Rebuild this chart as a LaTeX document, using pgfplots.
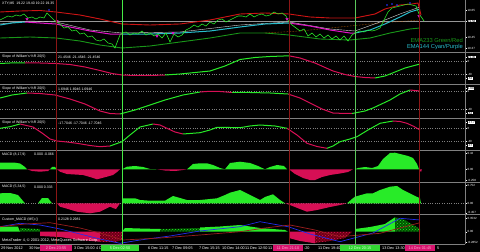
\documentclass[border=0pt]{standalone}
\usepackage{fontspec}
\setmainfont{Liberation Sans}
\usepackage{pgfplots}
\pgfplotsset{compat=1.18}
\usetikzlibrary{patterns}
\definecolor{upc}{RGB}{40,235,40}
\definecolor{dnc}{RGB}{215,15,85}
\definecolor{sepc}{RGB}{128,128,128}
\definecolor{vred}{RGB}{140,22,22}
\definecolor{vgreen}{RGB}{70,235,70}
\definecolor{emag}{RGB}{25,150,25}
\definecolor{emar}{RGB}{205,20,20}
\definecolor{cyanl}{RGB}{40,190,205}
\definecolor{purp}{RGB}{225,20,200}
\definecolor{mblue}{RGB}{35,45,235}
\definecolor{maroonl}{RGB}{155,30,30}
\definecolor{dkg}{RGB}{0,85,0}
\definecolor{dkr}{RGB}{110,0,20}
\definecolor{tmag}{RGB}{215,20,110}
\definecolor{tgrn}{RGB}{50,215,50}
\newcommand\lblfont{\fontsize{3}{3.4}\selectfont}
\newcommand\hdfont{\fontsize{3.5}{4}\selectfont}
\newcommand\tfont{\fontsize{3.8}{4.2}\selectfont}
\setlength{\fboxsep}{0.4pt}
\newcommand\bx[1]{\colorbox{white}{\textcolor{black}{#1}}}
\pgfplotsset{
 panel/.style={scale only axis, width=465pt, xmin=0, xmax=465, y dir=reverse, anchor=north west,
  axis x line=none, axis y line*=right, axis line style={draw=sepc, line width=0.8pt},
  ytick pos=right, yticklabel pos=right, tick align=outside, major tick length=1.5pt,
  tick style={white, line width=0.3pt},
  yticklabel style={white, font=\lblfont, inner sep=0.5pt, xshift=0.3pt},
  clip=true},
 up/.style={draw=upc, line width=1pt},
 dn/.style={draw=dnc, line width=1pt},
 gridl/.style={draw=sepc, dotted, line width=0.35pt},
 upf/.style={fill=upc, draw=none},
 dnf/.style={fill=dnc, draw=none},
}
\begin{document}
\begin{tikzpicture}
\fill[black] (0pt,0pt) rectangle (480pt,252pt);

% ---------------- main chart ----------------
\begin{axis}[panel, at={(0pt,252pt)}, height=52pt, ymin=0, ymax=52,
  ytick={10,21,37,48}, yticklabels={19.65,\bx{19.58},19.45,19.37}]
\addplot[draw={rgb,255:red,150;green,150;blue,150}, line width=0.4pt] coordinates {(0,21)(465,21)};
\addplot[draw={rgb,255:red,200;green,100;blue,0}, densely dotted, line width=0.5pt] coordinates {(265,33)(300,31)(340,27)(380,23)(420,20)};
% lower green band
\addplot[draw=emag, line width=0.9pt] coordinates {(0,38)(30,37)(56,38)(80,41)(100,45)(122,48)(150,46)(180,42)(210,38)(240,33)(265,33)(289,35)(320,39)(350,40)(370,38)(390,33)(410,29)(420,28)};
% upper red band
\addplot[draw=emar, line width=0.9pt] coordinates {(0,12)(20,11)(40,10.5)(56,12)(80,15)(100,19)(122,24)(150,25)(180,24)(210,20)(240,14)(265,13)(289,14)(310,17)(330,18)(355,18)(375,14)(385,9)(400,5)(412,4)(418,3)(421,15)};
% white smoothed line
\addplot[draw={rgb,255:red,215;green,215;blue,215}, line width=0.4pt] coordinates {(0,24)(30,21)(56,22)(90,30)(122,33)(180,32)(240,25)(289,22)(330,29)(355,31)(380,22)(400,14)(420,7)};
% EMA144 cyan / purple
\addplot[draw=cyanl, line width=1pt] coordinates {(0,25)(12,23)(25,22)};
\addplot[draw=purp, line width=1pt] coordinates {(25,22)(40,23)(56,24)(70,27)(90,31)(110,34)(122,34)};
\addplot[draw=cyanl, line width=1pt] coordinates {(122,34)(150,34)(180,33)(210,31)(240,27)(265,24)(289,23)};
\addplot[draw=purp, line width=1pt] coordinates {(289,23)(310,26)(330,30)(350,33)(355,33)};
\addplot[draw=cyanl, line width=1pt] coordinates {(355,33)(370,30)(385,24)(400,17)(410,12)(420,9)};
% price
\addplot[draw=upc, line width=0.6pt] coordinates {(0,20)(4,18)(8,16)(12,17)(16,15)(20,16)(24,14)(28,18)(32,17)(36,19)(40,17)(44,18)(47,13)(50,16)(53,19)(56,22)(60,24)(64,28)(68,27)(72,31)(76,30)(80,34)(84,33)(88,37)(92,36)(96,40)(100,41)(104,39)(108,43)(112,44)(115,48)(118,40)(120,35)(122,33)(126,32)(130,35)(134,33)(138,34)(142,31)(146,35)(150,33)(154,36)(158,34)(162,38)(166,33)(170,42)(174,34)(178,37)(182,35)(186,30)(190,28)(194,25)(198,27)(202,24)(206,26)(210,22)(214,24)(218,20)(222,19)(226,22)(230,20)(234,18)(238,16)(242,16)(246,17)(250,14)(254,17)(258,15)(262,14)(266,16)(270,15)(274,12)(278,14)(282,13)(286,16)(289,22)(292,25)(296,28)(300,31)(304,29)(308,36)(312,33)(316,37)(320,34)(324,38)(328,35)(332,39)(336,36)(340,40)(344,36)(348,41)(352,35)(355,33)(360,31)(364,32)(368,30)(372,31)(376,30)(380,28)(384,20)(388,12)(392,8)(396,7)(400,6)(404,5)(408,4)(412,5)(416,6)(419,14)(422,18)(424,21)};
\addplot[only marks, mark=triangle*, mark size=1.4pt, mark options={rotate=180, fill=purp, draw=purp}] coordinates {(27,19)(57,21)(157,36)(173,33)(287,19)(419,16)};
\addplot[only marks, mark=*, mark size=0.6pt, mblue] coordinates {(49,10)(387,5)(392,4)(397,5)(410,3)};
\node[anchor=west, white, font=\hdfont, inner sep=0pt] at (axis cs:2,4) {XTY,M5\ \ 19.22 19.40 19.22 19.35};
\node[anchor=east, emag, font=\fontsize{5.8}{6}\selectfont, inner sep=0pt] at (axis cs:463,40) {EMA233 Green/Red};
\node[anchor=east, cyanl, font=\fontsize{5.8}{6}\selectfont, inner sep=0pt] at (axis cs:463,47) {EMA144 Cyan/Purple};
\end{axis}

% ---------------- slope 1 ----------------
\begin{axis}[panel, at={(0pt,198.5pt)}, height=30.5pt, ymin=53.5, ymax=84,
  ytick={57,61,74,78.5}, yticklabels={\bx{21.45},0,-40,\bx{-52}}]
\addplot[gridl] coordinates {(0,61)(465,61)};
\addplot[gridl] coordinates {(0,74)(465,74)};
\addplot[up] coordinates {(0,63.5)(10,63)(25,62.8)};
\addplot[dn] coordinates {(25,62.8)(40,63)(56,63.5)(70,64.5)(85,67)(100,70.5)(112,73.5)(122,75)(135,75.5)(150,75.5)(165,75)};
\addplot[up] coordinates {(165,75)(180,74)(195,72.5)(210,71)(225,66)(240,59.5)(255,57.5)(270,56.5)(289,55.8)};
\addplot[dn] coordinates {(289,55.8)(300,58)(315,63)(333,71)(345,74.5)(355,76.5)(365,77.5)(375,78)};
\addplot[up] coordinates {(375,78)(385,76)(395,72)(405,68)(420,64)};
\node[anchor=west, white, font=\hdfont, inner sep=0pt] at (axis cs:2,57) {Slope of William's \%R 20(5)};
\node[anchor=west, white, font=\hdfont, inner sep=0pt] at (axis cs:58,57) {21.4546 -21.4546 -21.4546};
\end{axis}

% ---------------- slope 2 ----------------
\begin{axis}[panel, at={(0pt,166.5pt)}, height=32.5pt, ymin=85.5, ymax=118,
  ytick={88.5,91,109,113}, yticklabels={\bx{1.69},0,-40,\bx{-52}}]
\addplot[gridl] coordinates {(0,91)(465,91)};
\addplot[gridl] coordinates {(0,109)(465,109)};
\addplot[up] coordinates {(0,98)(12,95)(27,93)};
\addplot[dn] coordinates {(27,93)(40,93.5)(55,95)(70,99)(85,104)(100,111)(110,113.5)(120,114)};
\addplot[up] coordinates {(120,114)(135,110)(150,105)(165,100)(183,95)(200,92)};
\addplot[dn] coordinates {(200,92)(207,91.5)(220,91.5)(232,92.5)};
\addplot[up] coordinates {(232,92.5)(250,92.5)(270,93)(288,94)};
\addplot[dn] coordinates {(288,94)(300,98)(310,103)(322,109)(333,113)(345,113.5)(352,113.5)};
\addplot[up] coordinates {(352,113.5)(365,111)(373,108)(390,100)(400,94)(410,90)};
\addplot[dn] coordinates {(410,90)(420,91)};
\node[anchor=west, white, font=\hdfont, inner sep=0pt] at (axis cs:2,89) {Slope of William's \%R 20(5)};
\node[anchor=west, white, font=\hdfont, inner sep=0pt] at (axis cs:58,89) {1.6946 1.6946 1.6946};
\end{axis}

% ---------------- slope 3 ----------------
\begin{axis}[panel, at={(0pt,132.5pt)}, height=30.5pt, ymin=119.5, ymax=150,
  ytick={122.5,128,141.5,145.5}, yticklabels={\bx{-17.7},0,-40,\bx{-47}}]
\addplot[gridl] coordinates {(0,128)(465,128)};
\addplot[gridl] coordinates {(0,141.5)(465,141.5)};
\addplot[up] coordinates {(0,128.3)(10,126.7)(20,124)};
\addplot[dn] coordinates {(20,124)(33,127)(42,133)(50,139)(57,141)(67,142)(77,143.3)(90,145.5)(100,146.7)(110,146)};
\addplot[up] coordinates {(110,146)(122,141.7)(130,135)(140,127)(153,124)};
\addplot[dn] coordinates {(153,124)(160,125)(167,128.3)(175,132)(183,134)};
\addplot[up] coordinates {(183,134)(200,132.7)(210,130)(217,127.3)(230,127.5)(240,127.7)(250,126)(260,125)(275,126)(287,128.3)};
\addplot[dn] coordinates {(287,128.3)(297,135)(307,143.3)(317,146.5)(327,148.3)};
\addplot[up] coordinates {(327,148.3)(333,146)(340,141.7)(350,139)(357,136.7)(368,130)(380,123.3)(393,121)};
\addplot[dn] coordinates {(393,121)(400,121.5)(407,123.3)(414,126.5)(420,130)};
\node[anchor=west, white, font=\hdfont, inner sep=0pt] at (axis cs:2,123) {Slope of William's \%R 20(5)};
\node[anchor=west, white, font=\hdfont, inner sep=0pt] at (axis cs:58,123) {-17.7046 -17.7046 -17.7046};
\end{axis}

% ---------------- MACD 1 ----------------
\begin{axis}[panel, at={(0pt,100.5pt)}, height=30.5pt, ymin=151.5, ymax=182,
  ytick={153.5,169.3,180}, yticklabels={0.42,0.00,-0.258}]
\addplot[upf] coordinates {(0,169.3)(0,162.7)(15,162.7)(20,163.5)(25,167)(27,169.3)};
\addplot[dnf] coordinates {(27,169.3)(32,171)(40,171.7)(48,171)(50,169.3)};
\addplot[upf] coordinates {(50,169.3)(52,167)(55,167)(57,169.3)};
\addplot[dnf] coordinates {(57,169.3)(60,171.7)(67,174)(75,174.5)(83,175)(90,177)(97,179.3)(102,178)(107,176.7)(113,175)(117,172)(120,169.3)};
\addplot[upf] coordinates {(122,169.3)(127,166.7)(135,166)(143,167)(150,169)(157,169.3)};
\addplot[dnf] coordinates {(157,169.3)(165,170.5)(175,171)(183,170)(187,169.3)};
\addplot[upf] coordinates {(187,169.3)(193,164)(200,163.3)(207,163.3)(213,165)(220,168)(225,169.3)(230,163)(240,161.7)(250,163)(258,166)(265,169.3)(270,167)(277,165)(284,166)(287,169.3)};
\addplot[dnf] coordinates {(289,169.3)(295,174)(303,178)(310,180)(315,180)(322,177)(330,175)(340,173.5)(348,172)(353,169.3)};
\addplot[upf] coordinates {(355,169.3)(358,168)(365,167)(372,168)(378,166)(383,159)(390,153)(395,152.7)(400,154)(408,156)(413,158)(417,164)(419,169.3)};
\addplot[dnf] coordinates {(419,169.3)(421,172)(422,169.3)};
\node[anchor=west, white, font=\hdfont, inner sep=0pt] at (axis cs:2,154.5) {MACD (8,17,9)};
\node[anchor=west, white, font=\hdfont, inner sep=0pt] at (axis cs:34,154.5) {0.000 -0.066};
\end{axis}

% ---------------- MACD 2 ----------------
\begin{axis}[panel, at={(0pt,68.5pt)}, height=30.5pt, ymin=183.5, ymax=214,
  ytick={185.5,203.3,212.7}, yticklabels={0.752,0.00,-0.457}]
\addplot[gridl] coordinates {(0,203.3)(465,203.3)};
\addplot[upf] coordinates {(0,203.3)(0,193.3)(10,193)(18,195)(25,203.3)};
\addplot[upf] coordinates {(38,203.3)(42,198)(48,198)(52,203.3)};
\addplot[dnf] coordinates {(57,203.3)(60,206.7)(68,209)(77,211.7)(90,213.3)(100,211.7)(110,206.7)(113,208)(116,209)(120,203.3)};
\addplot[upf] coordinates {(122,203.3)(123,198.3)(135,198.3)(140,200)(150,200.7)(165,200.7)(173,196)(180,198)(187,200)(200,200)(210,199)(217,198.3)(225,195)(230,192.7)(240,190)(250,195)(260,200)(265,197)(273,194.3)(280,200)(285,203.3)};
\addplot[dnf] coordinates {(285,203.3)(290,205)(300,209)(307,211.7)(317,210)(330,207)(340,205)(347,203.3)};
\addplot[upf] coordinates {(347,203.3)(352,199)(355,196.7)(367,193.3)(373,193.3)(380,190)(390,186.7)(397,186)(403,190)(413,195)(420,198.3)(421,203.3)};
\node[anchor=west, white, font=\hdfont, inner sep=0pt] at (axis cs:2,187) {MACD (5,34,5)};
\node[anchor=west, white, font=\hdfont, inner sep=0pt] at (axis cs:34,187) {0.000 0.333};
\end{axis}

% ---------------- Custom MACD ----------------
\begin{axis}[panel, at={(0pt,36.5pt)}, height=28.5pt, ymin=215.5, ymax=244,
  ytick={218.3,231.7,242.5}, yticklabels={0.3532,0.00,-0.2852}]
\addplot[upf] coordinates {(0,231.7)(0,226.7)(18,226.7)(20,231.7)};
\addplot[draw=none, fill=dkg, postaction={pattern=crosshatch dots, pattern color=upc}] coordinates {(20,231.7)(20,228)(40,229)(40,231.7)};
\addplot[dnf] coordinates {(40,231.7)(40,236)(60,237)(80,240)(100,241.7)(100,231.7)};
\addplot[draw=none, fill=dkr, postaction={pattern=crosshatch dots, pattern color=dnc}] coordinates {(100,231.7)(100,241.7)(115,242)(122,240)(122,231.7)};
\addplot[upf] coordinates {(122,231.7)(125,228)(140,228.5)(160,229)(160,231.7)};
\addplot[draw=none, fill=dkg, postaction={pattern=crosshatch dots, pattern color=upc}] coordinates {(160,231.7)(160,229)(200,228)(200,231.7)};
\addplot[upf] coordinates {(200,231.7)(200,227.5)(220,226.5)(240,225)(260,228)(285,230)(288,231.7)};
\addplot[dnf] coordinates {(289,231.7)(289,238)(300,241)(315,243.3)(315,231.7)};
\addplot[draw=none, fill=dkr, postaction={pattern=crosshatch dots, pattern color=dnc}] coordinates {(315,231.7)(315,243)(330,241)(345,238)(352,232)(352,231.7)};
\addplot[upf] coordinates {(355,231.7)(355,229)(370,227)(385,224)(395,217.3)(395,231.7)};
\addplot[draw=none, fill=dkg, postaction={pattern=crosshatch dots, pattern color=upc}] coordinates {(395,231.7)(395,217.3)(405,220)(413,225)(420,229)(420,231.7)};
\addplot[draw=mblue, line width=0.7pt] coordinates {(0,226.7)(20,223.3)(40,225)(60,229)(80,234)(100,239)(120,243.3)(140,240)(170,236)(200,231)(240,226.7)(260,221.7)(288,226.7)(310,234)(340,241.7)(373,233)(400,218.3)(420,220)};
\addplot[draw=maroonl, line width=0.7pt] coordinates {(0,226.7)(25,224)(50,222.7)(80,228)(100,233)(123,240)(160,238)(200,235)(240,231.7)(265,228)(290,225)(315,230)(340,236.7)(380,233.3)(400,228)(420,222.7)};
\node[anchor=west, white, font=\hdfont, inner sep=0pt] at (axis cs:2,219.5) {Custom\_MACD (M5) ()};
\node[anchor=west, white, font=\hdfont, inner sep=0pt] at (axis cs:58,219.5) {0.2128 0.2981};
\end{axis}

% ---------------- separators ----------------
\fill[sepc] (0pt,198.5pt) rectangle (480pt,200pt);
\fill[sepc] (0pt,166.5pt) rectangle (480pt,168pt);
\fill[sepc] (0pt,132.5pt) rectangle (480pt,134pt);
\fill[sepc] (0pt,100.5pt) rectangle (480pt,102pt);
\fill[sepc] (0pt,68.5pt) rectangle (480pt,70pt);
\fill[sepc] (0pt,36.5pt) rectangle (480pt,38pt);
\fill[sepc] (0pt,7.3pt) rectangle (465pt,8pt);

% ---------------- vertical lines ----------------
\begin{axis}[scale only axis, width=465pt, height=244pt, at={(0pt,252pt)}, anchor=north west,
  xmin=0, xmax=465, ymin=0, ymax=244, y dir=reverse, hide axis, clip=true]
\addplot[draw=vred, line width=1pt] coordinates {(56,0)(56,244)};
\addplot[draw=vgreen, line width=1pt] coordinates {(122,0)(122,244)};
\addplot[draw=vred, line width=1pt] coordinates {(289,0)(289,244)};
\addplot[draw={rgb,255:red,90;green,200;blue,90}, line width=0.9pt] coordinates {(355,0)(355,244)};
\addplot[draw=vred, line width=1pt] coordinates {(419,0)(419,244)};
\end{axis}

\node[anchor=west, white, font=\tfont, inner sep=0pt] at (2pt,11pt) {MetaTrader 4, \textcopyright{} 2001-2012, MetaQuotes Software Corp.};

% ---------------- time axis ----------------
\begin{scope}[every node/.style={anchor=west, white, font=\tfont, inner sep=0pt}]
\node at (1pt,3.8pt) {29 Nov 2012};
\node at (29pt,3.8pt) {30 Nov 15:};
\node at (74pt,3.8pt) {3 Dec 15:00};
\node at (96pt,3.8pt) {4 Dec 08};
\node at (148pt,3.8pt) {6 Dec 11:15};
\node at (172pt,3.8pt) {7 Dec 09:05};
\node at (199pt,3.8pt) {7 Dec 15:15};
\node at (222pt,3.8pt) {10 Dec 14:00};
\node at (245pt,3.8pt) {11 Dec 12:50};
\node at (268pt,3.8pt) {11};
\node at (304pt,3.8pt) {:20};
\node at (318pt,3.8pt) {11 Dec 19:40};
\node at (382pt,3.8pt) {13 Dec 13:30};
\node at (437pt,3.8pt) {5};
\end{scope}
\fill[tmag] (40pt,0.6pt) rectangle (72pt,7pt);
\fill[tgrn] (101pt,0.6pt) rectangle (139pt,7pt);
\fill[tmag] (273pt,0.6pt) rectangle (303pt,7pt);
\fill[tgrn] (340pt,0.6pt) rectangle (380pt,7pt);
\fill[tmag] (405pt,0.6pt) rectangle (435pt,7pt);
\begin{scope}[every node/.style={anchor=center, font=\tfont, inner sep=0pt}]
\node[text={rgb,255:red,255;green,170;blue,210}] at (56pt,3.8pt) {2 Dec 23:55};
\node[text={rgb,255:red,220;green,255;blue,220}] at (120pt,3.8pt) {5 Dec 02:50};
\node[text={rgb,255:red,255;green,170;blue,210}] at (288pt,3.8pt) {11 Dec 21:10};
\node[text={rgb,255:red,220;green,255;blue,220}] at (360pt,3.8pt) {12 Dec 20:15};
\node[text={rgb,255:red,255;green,170;blue,210}] at (420pt,3.8pt) {14 Dec 01:45};
\end{scope}

\pgfresetboundingbox
\path[use as bounding box] (0pt,0pt) rectangle (480pt,252pt);
\end{tikzpicture}
\end{document}
